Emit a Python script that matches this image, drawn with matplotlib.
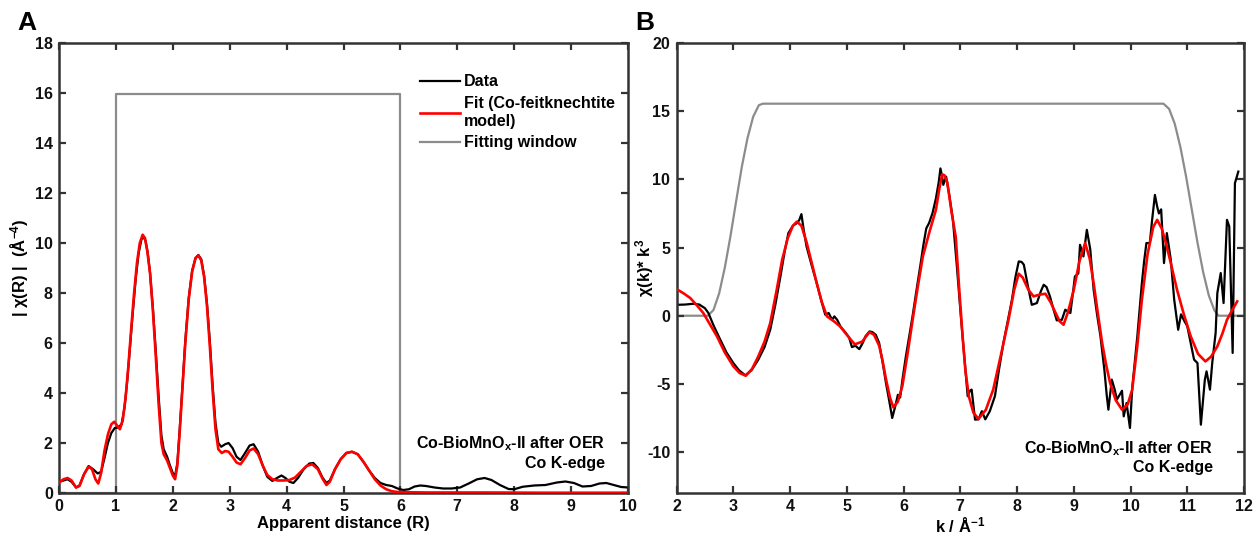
import matplotlib
matplotlib.use("Agg")
import matplotlib.pyplot as plt
from matplotlib import font_manager

# ---------------- R-space magnitude (panel A) ----------------
r_data = [0.00, 0.08, 0.15, 0.22, 0.30, 0.36, 0.44, 0.52, 0.60, 0.68, 0.74, 0.80, 0.86, 0.92, 0.98,
          1.04, 1.10, 1.15, 1.20, 1.25, 1.30, 1.35, 1.40, 1.45, 1.48, 1.52, 1.56, 1.60, 1.65, 1.70,
          1.75, 1.80, 1.84, 1.90, 1.95, 2.00, 2.04, 2.08, 2.12, 2.17, 2.22, 2.28, 2.34, 2.40, 2.45,
          2.50, 2.55, 2.60, 2.65, 2.70, 2.75, 2.80, 2.85, 2.92, 2.98, 3.05, 3.12, 3.19, 3.27, 3.35,
          3.42, 3.50, 3.58, 3.66, 3.75, 3.83, 3.91, 3.98, 4.05, 4.12, 4.20, 4.30, 4.40, 4.47, 4.55,
          4.63, 4.70, 4.76, 4.85, 4.95, 5.05, 5.15, 5.25, 5.35, 5.45, 5.55, 5.65, 5.75, 5.85, 5.95,
          6.05, 6.15, 6.25, 6.35, 6.45, 6.60, 6.75, 6.90, 7.05, 7.20, 7.35, 7.48, 7.60, 7.75, 7.90,
          8.00, 8.15, 8.35, 8.55, 8.75, 8.90, 9.05, 9.20, 9.35, 9.50, 9.62, 9.75, 9.88, 10.00]
chir_data = [0.45, 0.50, 0.55, 0.45, 0.22, 0.30, 0.75, 1.08, 0.95, 0.78, 0.85, 1.40, 2.00, 2.40, 2.60,
             2.62, 2.75, 3.40, 4.50, 5.90, 7.30, 8.60, 9.60, 10.15, 10.25, 10.10, 9.60, 8.80, 7.40, 5.70,
             3.90, 2.30, 1.75, 1.45, 1.10, 0.80, 0.68, 1.20, 2.50, 4.30, 6.10, 7.80, 8.90, 9.40, 9.52,
             9.35, 8.70, 7.60, 6.10, 4.30, 2.80, 2.00, 1.85, 1.95, 2.00, 1.80, 1.45, 1.32, 1.60, 1.90,
             1.95, 1.65, 1.10, 0.65, 0.48, 0.60, 0.70, 0.60, 0.45, 0.40, 0.60, 0.95, 1.18, 1.20, 1.00,
             0.62, 0.40, 0.50, 0.95, 1.35, 1.60, 1.65, 1.55, 1.25, 0.90, 0.60, 0.40, 0.32, 0.28, 0.18,
             0.12, 0.15, 0.26, 0.30, 0.28, 0.22, 0.18, 0.18, 0.22, 0.38, 0.55, 0.60, 0.52, 0.32, 0.16,
             0.15, 0.25, 0.30, 0.32, 0.42, 0.46, 0.40, 0.26, 0.28, 0.38, 0.40, 0.32, 0.24, 0.22]

r_fit = [0.00, 0.08, 0.15, 0.22, 0.30, 0.36, 0.44, 0.52, 0.58, 0.64, 0.69, 0.74, 0.80, 0.86, 0.92,
         0.97, 1.02, 1.07, 1.12, 1.17, 1.22, 1.27, 1.32, 1.37, 1.42, 1.47, 1.51, 1.55, 1.60, 1.65,
         1.70, 1.75, 1.80, 1.84, 1.90, 1.95, 2.00, 2.04, 2.08, 2.12, 2.17, 2.22, 2.28, 2.34, 2.40,
         2.45, 2.50, 2.55, 2.60, 2.65, 2.70, 2.75, 2.80, 2.86, 2.92, 2.98, 3.05, 3.12, 3.19, 3.27,
         3.35, 3.42, 3.50, 3.58, 3.66, 3.75, 3.85, 3.95, 4.05, 4.15, 4.25, 4.35, 4.45, 4.55, 4.63,
         4.70, 4.76, 4.85, 4.95, 5.05, 5.15, 5.25, 5.35, 5.45, 5.55, 5.65, 5.75, 5.85, 5.95, 6.10,
         6.50, 7.50, 8.50, 10.00]
chir_fit = [0.42, 0.55, 0.60, 0.50, 0.22, 0.28, 0.75, 1.05, 0.95, 0.55, 0.38, 0.80, 1.70, 2.35, 2.75,
            2.85, 2.70, 2.55, 2.90, 3.80, 5.10, 6.60, 8.00, 9.20, 10.00, 10.33, 10.20, 9.70, 8.80, 7.30,
            5.50, 3.60, 2.00, 1.55, 1.30, 1.00, 0.70, 0.55, 1.10, 2.40, 4.20, 6.00, 7.75, 8.85, 9.40,
            9.50, 9.30, 8.65, 7.50, 5.90, 4.10, 2.55, 1.75, 1.60, 1.68, 1.65, 1.45, 1.22, 1.15, 1.40,
            1.70, 1.78, 1.55, 1.10, 0.72, 0.55, 0.50, 0.50, 0.52, 0.62, 0.85, 1.08, 1.15, 0.95, 0.58,
            0.32, 0.45, 0.95, 1.35, 1.60, 1.65, 1.55, 1.25, 0.90, 0.55, 0.30, 0.15, 0.07, 0.04, 0.03,
            0.02, 0.02, 0.01, 0.01]

r_window = [0.0, 1.0, 1.0, 6.0, 6.0, 10.0]
w_window_r = [0.0, 0.0, 15.95, 15.95, 0.0, 0.0]

# ---------------- k-space chi(k)*k^3 (panel B) ----------------
k_data = [2.00, 2.15, 2.30, 2.40, 2.50, 2.56, 2.65, 2.77, 2.88, 3.00, 3.10, 3.21, 3.32, 3.44, 3.55,
          3.65, 3.74, 3.83, 3.90, 3.97, 4.05, 4.12, 4.16, 4.20, 4.24, 4.29, 4.38, 4.47, 4.55, 4.62,
          4.68, 4.74, 4.78, 4.83, 4.89, 4.98, 5.04, 5.09, 5.15, 5.22, 5.28, 5.33, 5.40, 5.45, 5.51,
          5.57, 5.63, 5.69, 5.75, 5.80, 5.85, 5.90, 5.94, 5.98, 6.04, 6.10, 6.16, 6.22, 6.30, 6.35,
          6.40, 6.45, 6.51, 6.57, 6.62, 6.65, 6.68, 6.70, 6.75, 6.80, 6.87, 6.94, 7.01, 7.07, 7.13,
          7.17, 7.20, 7.23, 7.26, 7.32, 7.38, 7.44, 7.52, 7.61, 7.68, 7.76, 7.84, 7.91, 7.97, 8.03,
          8.08, 8.12, 8.19, 8.26, 8.35, 8.42, 8.47, 8.52, 8.58, 8.64, 8.70, 8.79, 8.85, 8.94, 8.98,
          9.02, 9.08, 9.11, 9.17, 9.23, 9.29, 9.35, 9.41, 9.47, 9.54, 9.58, 9.61, 9.67, 9.72, 9.76,
          9.85, 9.88, 9.93, 9.99, 10.03, 10.08, 10.12, 10.20, 10.24, 10.28, 10.34, 10.38, 10.43, 10.47, 10.50,
          10.54, 10.59, 10.64, 10.71, 10.77, 10.84, 10.89, 10.95, 11.00, 11.06, 11.12, 11.18, 11.24, 11.31, 11.34,
          11.40, 11.44, 11.50, 11.53, 11.59, 11.64, 11.70, 11.74, 11.80, 11.84, 11.90]
chik_data = [0.80, 0.82, 0.88, 0.82, 0.55, 0.20, -0.70, -1.76, -2.70, -3.47, -4.00, -4.37, -4.00, -3.22, -2.30,
             -1.03, 0.80, 2.88, 4.60, 6.06, 6.60, 6.79, 7.00, 7.45, 6.30, 5.08, 3.70, 2.39, 1.10, 0.07,
             0.20, -0.30, -0.05, -0.30, -0.80, -1.25, -1.60, -2.30, -2.20, -2.45, -2.00, -1.50, -1.15, -1.20, -1.40,
             -2.00, -3.40, -4.93, -6.30, -7.50, -6.70, -5.80, -6.00, -4.70, -3.00, -1.50, 0.00, 1.66, 3.80, 5.20,
             6.40, 6.80, 7.52, 8.60, 9.80, 10.80, 10.20, 9.60, 10.20, 9.00, 7.03, 3.60, -0.05, -3.00, -5.90,
             -5.50, -5.42, -6.50, -7.62, -7.60, -7.00, -7.60, -7.00, -5.90, -4.00, -2.00, -0.30, 1.17, 2.80, 3.98,
             3.95, 3.74, 2.20, 0.80, 0.93, 1.80, 2.27, 2.10, 1.42, 0.50, -0.34, -0.30, 0.44, 0.20, 1.50,
             2.88, 3.10, 5.20, 4.35, 6.30, 4.88, 1.90, 0.10, -1.50, -4.00, -5.80, -6.89, -4.69, -5.40, -6.15,
             -5.50, -7.38, -6.40, -8.23, -5.30, -3.20, -1.50, 2.39, 4.00, 5.33, 5.33, 7.00, 8.86, 8.00, 7.50,
             7.80, 3.86, 6.06, 4.10, 1.17, -1.03, 0.10, -0.40, -0.76, -2.00, -3.22, -3.47, -7.99, -4.69, -4.08,
             -5.42, -3.47, -1.26, 1.66, 3.13, 0.93, 7.03, 6.55, -2.73, 9.72, 10.57]

k_fit = [2.00, 2.12, 2.24, 2.36, 2.47, 2.59, 2.71, 2.85, 3.00, 3.11, 3.22, 3.33, 3.44, 3.55, 3.65,
         3.76, 3.86, 3.96, 4.05, 4.12, 4.20, 4.29, 4.38, 4.47, 4.56, 4.65, 4.77, 4.88, 5.00, 5.14,
         5.27, 5.40, 5.48, 5.57, 5.63, 5.69, 5.76, 5.82, 5.90, 5.98, 6.07, 6.16, 6.25, 6.34, 6.46,
         6.57, 6.63, 6.68, 6.72, 6.77, 6.85, 6.92, 6.98, 7.04, 7.09, 7.15, 7.23, 7.32, 7.45, 7.58,
         7.72, 7.85, 7.95, 8.03, 8.10, 8.20, 8.29, 8.40, 8.50, 8.59, 8.68, 8.75, 8.82, 8.90, 9.00,
         9.10, 9.20, 9.28, 9.35, 9.43, 9.50, 9.57, 9.64, 9.74, 9.85, 9.95, 10.03, 10.12, 10.20, 10.30,
         10.40, 10.47, 10.55, 10.64, 10.73, 10.82, 10.94, 11.06, 11.19, 11.32, 11.42, 11.53, 11.62, 11.70, 11.79,
         11.88]
chik_fit = [1.95, 1.65, 1.30, 0.75, 0.20, -0.65, -1.50, -2.70, -3.71, -4.20, -4.40, -3.90, -2.98, -1.90, -0.54,
            1.80, 4.10, 5.70, 6.60, 6.90, 6.60, 5.40, 3.90, 2.39, 1.00, -0.05, -0.40, -0.78, -1.40, -2.10,
            -1.90, -1.20, -1.40, -2.20, -3.30, -4.64, -6.00, -6.72, -6.30, -5.13, -2.80, -0.30, 2.10, 4.35, 6.20,
            7.76, 9.30, 10.37, 10.30, 9.80, 7.50, 5.77, 2.00, -1.50, -4.00, -5.90, -7.10, -7.57, -6.90, -5.42,
            -2.80, -0.30, 1.90, 3.08, 2.80, 1.90, 1.42, 1.55, 1.61, 1.00, 0.20, -0.40, -0.66, 0.30, 1.90,
            4.00, 5.33, 4.20, 2.39, 0.00, -2.00, -3.60, -4.93, -6.20, -6.89, -6.50, -5.42, -2.20, 1.17, 4.50,
            6.50, 7.03, 6.40, 5.08, 3.50, 1.90, 0.10, -1.50, -2.80, -3.35, -3.00, -2.25, -1.30, -0.30, 0.40,
            1.05]

k_window = [2.00, 2.55, 2.65, 2.75, 2.85, 2.95, 3.05, 3.15, 3.25, 3.35, 3.45, 3.52,
            10.58, 10.68, 10.78, 10.88, 10.98, 11.08, 11.18, 11.28, 11.38, 11.48, 11.55, 12.00]
w_window_k = [0.0, 0.0, 0.42, 1.64, 3.53, 5.85, 8.41, 10.93, 13.03, 14.60, 15.44, 15.55,
              15.55, 15.17, 14.07, 12.35, 10.19, 7.78, 5.37, 3.20, 1.48, 0.38, 0.0, 0.0]

# ---------------- styling ----------------
installed = {f.name for f in font_manager.fontManager.ttflist}
FONT = "Liberation Sans Narrow" if "Liberation Sans Narrow" in installed else "Liberation Sans"
plt.rcParams.update({
    "font.family": [FONT, "DejaVu Sans"],
    "font.weight": "bold",
    "font.size": 11.5,
    "mathtext.fontset": "custom",
    "mathtext.rm": f"{FONT}:bold",
    "mathtext.bf": f"{FONT}:bold",
    "mathtext.it": f"{FONT}:bold",
    "axes.linewidth": 1.8,
    "axes.edgecolor": "#333333",
    "axes.unicode_minus": False,
})

BLACK = "#000000"
RED = "#ff0000"
GREY = "#8c8c8c"

fig = plt.figure(figsize=(12.57, 5.36), dpi=100)
axA = fig.add_axes([59 / 1257, 1 - 493 / 536, 569 / 1257, 450 / 536])
axB = fig.add_axes([676.6 / 1257, 1 - 493 / 536, 567.4 / 1257, 450 / 536])


def style_axes(ax):
    ax.tick_params(direction="in", length=5, width=1.6, color="#333333",
                   top=True, right=True, labelsize=11.5, pad=4.5, labelcolor="#111111")
    for lab in ax.get_xticklabels() + ax.get_yticklabels():
        lab.set_fontweight("bold")


# Panel A
axA.plot(r_window, w_window_r, color=GREY, lw=1.6, label="Fitting window", zorder=1)
axA.plot(r_data, chir_data, color=BLACK, lw=1.6, label="Data", zorder=2)
axA.plot(r_fit, chir_fit, color=RED, lw=1.9, label="Fit (Co-feitknechtite\nmodel)", zorder=3)
axA.set_xlim(0, 10)
axA.set_ylim(0, 18)
axA.set_xticks(range(0, 11))
axA.set_yticks(range(0, 19, 2))
style_axes(axA)
axA.set_xlabel("Apparent distance (R)", fontsize=12, fontweight="bold", labelpad=1)
axA.set_ylabel(r"| χ(R) |  (Å$^{-4}$)", fontsize=12, fontweight="bold")
axA.yaxis.set_label_coords(-0.05, 0.5)
handles, labels = axA.get_legend_handles_labels()
order = [1, 2, 0]
axA.legend([handles[i] for i in order], [labels[i] for i in order],
           loc="upper left", bbox_to_anchor=(0.61, 0.962), frameon=False,
           handlelength=2.5, handletextpad=0.2, labelspacing=0.42,
           prop={"weight": "bold", "size": 11.5, "family": [FONT, "DejaVu Sans"]})
axA.text(0.96, 0.09, "Co-BioMnO$_\\mathregular{x}$-II after OER\nCo K-edge",
         transform=axA.transAxes, ha="right", va="center", fontsize=11.5,
         fontweight="bold", linespacing=1.2)
fig.text(17 / 1257, 1 - 23 / 536, "A", fontsize=19, fontweight="bold", va="center", ha="left")

# Panel B
axB.plot(k_window, w_window_k, color=GREY, lw=1.6, zorder=1)
axB.plot(k_data, chik_data, color=BLACK, lw=1.6, zorder=2)
axB.plot(k_fit, chik_fit, color=RED, lw=1.9, zorder=3)
axB.set_xlim(2, 12)
axB.set_ylim(-13, 20)
axB.set_xticks(range(2, 13))
axB.set_yticks(range(-10, 21, 5))
style_axes(axB)
axB.set_xlabel(r"k / Å$^{-1}$", fontsize=12, fontweight="bold", labelpad=1)
axB.set_ylabel(r"χ(k)* k$^{3}$", fontsize=12, fontweight="bold")
axB.yaxis.set_label_coords(-0.036, 0.5)
axB.text(0.946, 0.08, "Co-BioMnO$_\\mathregular{x}$-II after OER\nCo K-edge",
         transform=axB.transAxes, ha="right", va="center", fontsize=11.5,
         fontweight="bold", linespacing=1.2)
fig.text(635 / 1257, 1 - 23 / 536, "B", fontsize=19, fontweight="bold", va="center", ha="left")

fig.savefig("out.png", dpi=100)
